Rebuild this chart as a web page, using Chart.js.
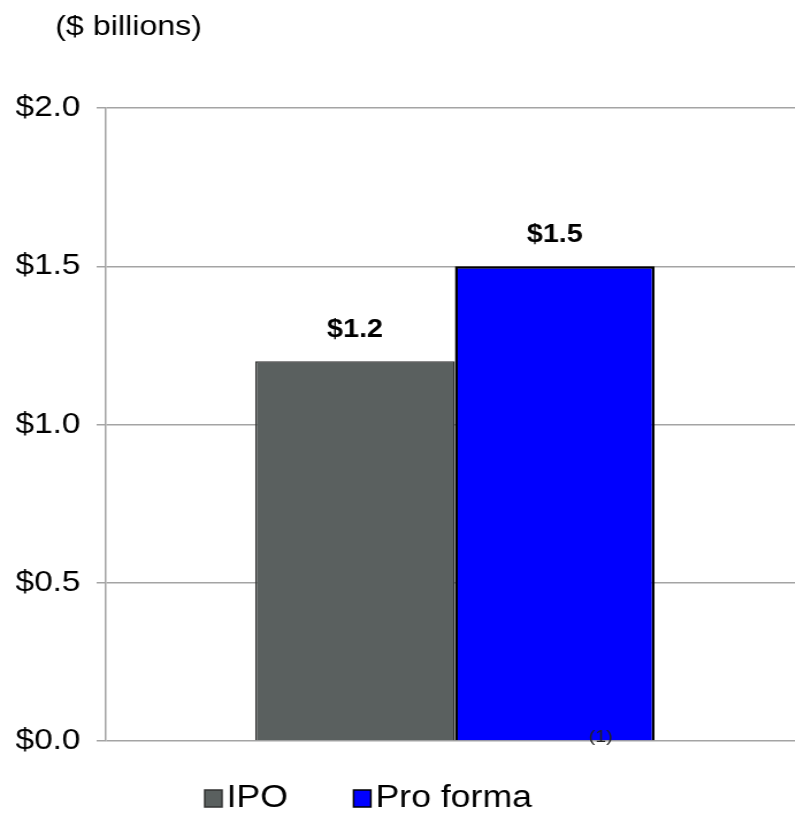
<!DOCTYPE html>
<html>
<head>
<meta charset="utf-8">
<script src="https://cdn.jsdelivr.net/npm/chart.js@4"></script>
<style>
  html, body { margin: 0; padding: 0; background: #fff; overflow: hidden; }
  /* the reference is a bit wide-stretched, so we draw narrow and stretch by css */
  #chart { display: block; width: 804px !important; height: 828px !important; }
</style>
</head>
<body>
<canvas id="chart" width="699" height="828" style="width:804px;height:828px"></canvas>
<script>
const categories = [''];
const seriesNames = ['IPO', 'Pro forma'];
const ipoValues = [1.2];
const proFormaValues = [1.5];
const yTicks = [0, 0.5, 1.0, 1.5, 2.0];
const unitLabel = '($ billions)';
const footnote = '(1)';

const FONT = "'Liberation Sans', Arial, sans-serif";

function money(v){
  return '$' + Number(v).toFixed(1);
}

// title in the top left corner
const titlePlugin = {
  id: 'unitTitle',
  afterDraw(chart){
    const ctx = chart.ctx;
    ctx.save();
    ctx.font = '28px ' + FONT;
    ctx.fillStyle = '#000';
    ctx.textAlign = 'left';
    ctx.textBaseline = 'middle';
    ctx.fillText(unitLabel, 48, 27);
    ctx.restore();
  }
};

// value labels above bars + the footnote mark on the pro forma bar
const labelPlugin = {
  id: 'barLabels',
  afterDatasetsDraw(chart){
    const ctx = chart.ctx;
    ctx.save();
    ctx.font = 'bold 25px ' + FONT;
    ctx.fillStyle = '#000';
    ctx.textAlign = 'center';
    ctx.textBaseline = 'middle';
    chart.data.datasets.forEach((ds, i) => {
      const meta = chart.getDatasetMeta(i);
      meta.data.forEach((bar, j) => {
        ctx.fillText(money(ds.data[j]), bar.x, bar.y - 31);
      });
    });
    const pf = chart.getDatasetMeta(1).data[0];
    ctx.font = '17px ' + FONT;
    ctx.fillStyle = '#222';
    ctx.fillText(footnote, pf.x + pf.width * 0.23, chart.chartArea.bottom - 4);
    ctx.restore();
  }
};

// legend under the chart, drawn from the datasets
const legendPlugin = {
  id: 'bottomLegend',
  afterDraw(chart){
    const ctx = chart.ctx;
    let x = 178;
    const yMid = 798;
    ctx.save();
    ctx.font = '31px ' + FONT;
    ctx.textBaseline = 'middle';
    ctx.textAlign = 'left';
    chart.data.datasets.forEach(ds => {
      ctx.fillStyle = ds.backgroundColor;
      ctx.fillRect(x, yMid - 8, 15, 17);
      ctx.lineWidth = 1.5;
      ctx.strokeStyle = ds.borderColor;
      ctx.strokeRect(x, yMid - 8, 15, 17);
      ctx.fillStyle = '#000';
      ctx.fillText(ds.label, x + 19, yMid);
      x += 19 + ctx.measureText(ds.label).width + 57;
    });
    ctx.restore();
  }
};

const ctx = document.getElementById('chart').getContext('2d');
const chart = new Chart(ctx, {
  type: 'bar',
  data: {
    labels: categories,
    datasets: [
      {
        label: seriesNames[0],
        data: ipoValues,
        backgroundColor: '#5a605f',
        borderColor: '#333333',
        borderWidth: 1.5
      },
      {
        label: seriesNames[1],
        data: proFormaValues,
        backgroundColor: '#0000ff',
        borderColor: '#000000',
        borderWidth: 2.5
      }
    ]
  },
  options: {
    responsive: false,
    devicePixelRatio: 1,
    animation: false,
    layout: { padding: { top: 108, bottom: 87, left: 0, right: 0 } },
    datasets: {
      bar: { categoryPercentage: 0.572, barPercentage: 1.0 }
    },
    plugins: {
      legend: { display: false },
      title: { display: false },
      tooltip: { enabled: false }
    },
    scales: {
      x: { display: false },
      y: {
        min: 0,
        max: 2,
        afterBuildTicks(scale){
          scale.ticks = yTicks.map(v => ({ value: v }));
        },
        afterFit(scale){
          scale.width = 92;
        },
        grid: {
          color: '#a4a4a4',
          lineWidth: 1.5,
          drawTicks: true,
          tickLength: 8
        },
        border: { display: true, color: '#a4a4a4', width: 1.5 },
        ticks: {
          padding: 14,
          color: '#000',
          font: { family: FONT, size: 29 },
          callback: (v) => money(v)
        }
      }
    }
  },
  plugins: [titlePlugin, labelPlugin, legendPlugin]
});
</script>
</body>
</html>
